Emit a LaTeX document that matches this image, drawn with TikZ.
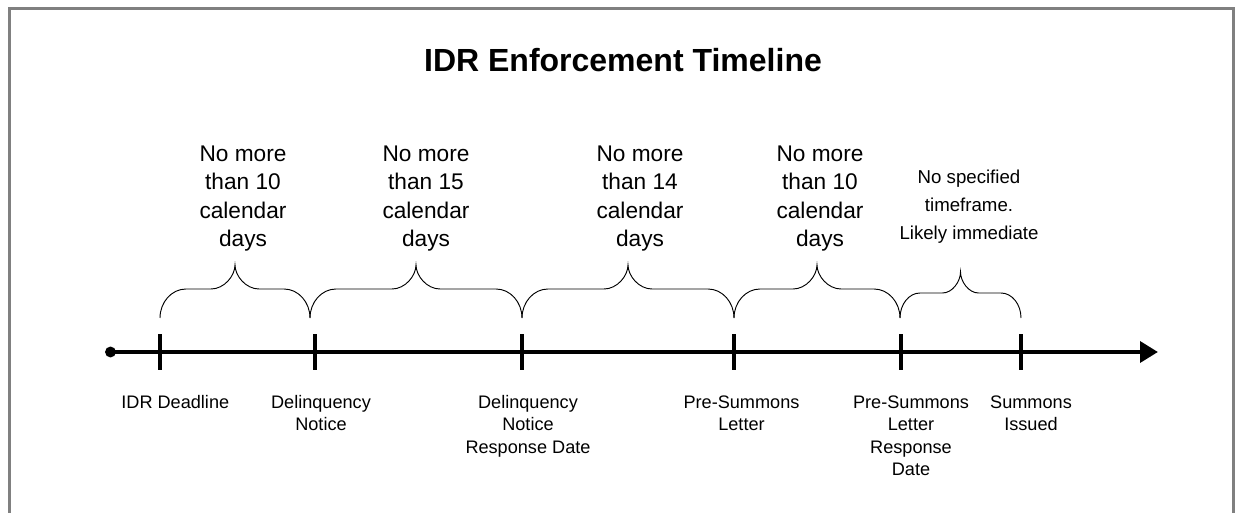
\documentclass[tikz,border=0pt]{standalone}
\usepackage{fontspec}
\setmainfont{Liberation Sans}
\usetikzlibrary{arrows.meta}
\definecolor{framegray}{RGB}{128,128,128}
\tikzset{frame/.style={draw=framegray, line width=1.9pt},
axis/.style={line width=3.4pt, -{Triangle[length=13.5pt,width=15.5pt]}},
tickline/.style={line width=2.5pt},
curly/.style={line width=0.7pt},
span/.style={align=center, inner sep=0pt, anchor=base, font=\fontsize{17}{21.3}\selectfont},
event/.style={align=center, inner sep=0pt, anchor=base, font=\fontsize{13.6}{16.7}\selectfont}
}
% brace over one interval: x1, x2, tip, middle, ends, end bend, tip bend
\newcommand{\spanbrace}[7]{%
\pgfmathsetmacro{\bc}{(#1+#2)/2}
\draw[curly] ({#1},{#5}) .. controls ({#1},{#5-0.55*(#5-#4)}) and ({#1+0.45*#6},{#4}) .. ({#1+#6},{#4})
  -- ({\bc-#7},{#4}) .. controls ({\bc-0.45*#7},{#4}) and ({\bc},{#4-0.55*(#4-#3)}) .. ({\bc},{#3})
  .. controls ({\bc},{#4-0.55*(#4-#3)}) and ({\bc+0.45*#7},{#4}) .. ({\bc+#7},{#4})
  -- ({#2-#6},{#4}) .. controls ({#2-0.45*#6},{#4}) and ({#2},{#5-0.55*(#5-#4)}) .. ({#2},{#5});
}

\begin{document}
\begin{tikzpicture}[x=0.75pt,y=-0.75pt]
\useasboundingbox (0,0) rectangle (1235,513);
\draw[frame] (9.5,513) -- (9.5,8.7) -- (1233.3,8.7) -- (1233.3,513);
\node[anchor=base, inner sep=0pt, font=\fontsize{24}{29}\selectfont\bfseries] (title) at (623,71.7) {IDR Enforcement Timeline};
% the time axis
\coordinate (start) at (110.5,352);
\coordinate (end) at (1158,352);
\draw[axis] (start) -- (end);
\fill (start) circle[radius=4.1pt];
\foreach \x/\n in {160/t1,315/t2,522/t3,734/t4,901/t5,1021/t6}
  \coordinate (\n) at (\x,352);
\foreach \n in {t1,t2,t3,t4,t5,t6}
  \draw[tickline] ([yshift=13.5pt]\n) -- ([yshift=-13.5pt]\n);
% braces
\spanbrace{160}{310}{265}{289}{318}{26}{24}
\spanbrace{310}{522}{265}{289}{318}{26}{24}
\spanbrace{522}{734}{265}{289}{318}{26}{24}
\spanbrace{734}{900}{265}{289}{318}{26}{24}
\spanbrace{900}{1021}{272}{293}{318}{20}{18}
% time allowed (placed at the last line)
\node[span] (span1) at (243,246.8) {No more\\than 10\\calendar\\days};
\node[span] (span2) at (426,246.8) {No more\\than 15\\calendar\\days};
\node[span] (span3) at (640,246.8) {No more\\than 14\\calendar\\days};
\node[span] (span4) at (820,246.8) {No more\\than 10\\calendar\\days};
\node[span, font=\fontsize{14}{21}\selectfont] (span5) at (969,239.3) {No specified\\timeframe.\\Likely immediate};
% events (placed at the last line)
\node[event] (deadline) at (175.3,408.5) {IDR Deadline};
\node[event] (notice) at (321,430.8) {Delinquency\\Notice};
\node[event] (noticedue) at (528,453.1) {Delinquency\\Notice\\Response Date};
\node[event] (letter) at (741.5,430.8) {Pre-Summons\\Letter};
\node[event] (letterdue) at (911,475.4) {Pre-Summons\\Letter\\Response\\Date};
\node[event] (summons) at (1031,430.8) {Summons\\Issued};
\end{tikzpicture}
\end{document}
